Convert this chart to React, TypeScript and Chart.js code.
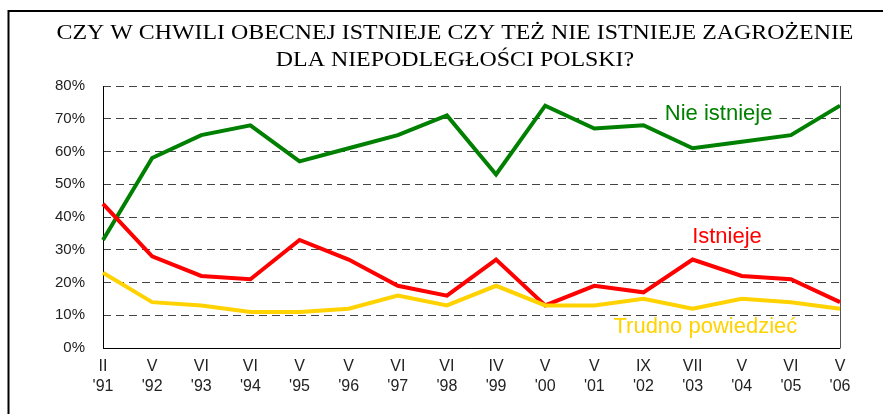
import React, { useEffect, useRef } from "react";
import { Chart, registerables } from "chart.js";

Chart.register(...registerables);

const months = ["II", "V", "VI", "VI", "V", "V", "VI", "VI", "IV", "V", "V", "IX", "VII", "V", "VI", "V"];
const years = ["'91", "'92", "'93", "'94", "'95", "'96", "'97", "'98", "'99", "'00", "'01", "'02", "'03", "'04", "'05", "'06"];

const nieIstnieje = [33, 58, 65, 68, 57, 61, 65, 71, 53, 74, 67, 68, 61, 63, 65, 74];
const istnieje = [44, 28, 22, 21, 33, 27, 19, 16, 27, 13, 19, 17, 27, 22, 21, 14];
const trudno = [23, 14, 13, 11, 11, 12, 16, 13, 19, 13, 13, 15, 12, 15, 14, 12];

const titleLines = [
  "CZY W CHWILI OBECNEJ ISTNIEJE CZY TEŻ NIE ISTNIEJE ZAGROŻENIE",
  "DLA NIEPODLEGŁOŚCI POLSKI?",
];

const GREEN = "#008000";
const RED = "#FF0000";
const YELLOW = "#FFD200";

// series label anchors: [category index, value]
const seriesLabels = [
  { text: "Nie istnieje", color: GREEN, at: [12.53, 71.6], bg: true },
  { text: "Istnieje", color: RED, at: [12.7, 33.9], bg: false },
  { text: "Trudno powiedzieć", color: YELLOW, at: [12.26, 6.5], bg: false },
];

const decorPlugin = {
  id: "decor",
  beforeDatasetsDraw(chart: any) {
    const { ctx, chartArea, scales } = chart;
    const { left, right, top, bottom } = chartArea;
    ctx.save();
    ctx.setLineDash([]);
    ctx.lineWidth = 1;
    ctx.strokeStyle = "#000";
    ctx.beginPath();
    ctx.moveTo(left + 0.5, top);
    ctx.lineTo(left + 0.5, bottom + 0.5);
    ctx.lineTo(right, bottom + 0.5);
    ctx.stroke();
    ctx.strokeStyle = "#555";
    ctx.beginPath();
    ctx.moveTo(right + 0.5, top);
    ctx.lineTo(right + 0.5, bottom + 0.5);
    ctx.stroke();
    ctx.font = "22px 'Liberation Sans', Arial, sans-serif";
    ctx.textAlign = "center";
    ctx.textBaseline = "middle";
    for (const l of seriesLabels) {
      const x = scales.x.getPixelForValue(l.at[0]);
      const y = scales.y.getPixelForValue(l.at[1]);
      if (l.bg) {
        const w = ctx.measureText(l.text).width;
        ctx.fillStyle = "#fff";
        ctx.fillRect(x - w / 2 - 7, y - 13, w + 14, 24);
      }
      ctx.fillStyle = l.color;
      ctx.fillText(l.text, x, y);
    }
    ctx.restore();
  },
  afterDraw(chart: any) {
    const { ctx, width } = chart;
    ctx.save();
    ctx.setLineDash([]);
    ctx.strokeStyle = "#000";
    ctx.lineWidth = 2;
    ctx.beginPath();
    ctx.moveTo(8.5, 500);
    ctx.lineTo(8.5, 11);
    ctx.lineTo(width, 11);
    ctx.stroke();
    ctx.fillStyle = "#000";
    ctx.font = "22px 'Liberation Serif', 'Times New Roman', serif";
    ctx.textAlign = "center";
    ctx.textBaseline = "middle";
    ctx.translate(455, 0);
    ctx.scale(1.086, 1);
    ctx.fillText(titleLines[0], 0, 33);
    ctx.fillText(titleLines[1], 0, 60);
    ctx.restore();
  },
};

export default function App() {
  const ref = useRef<HTMLCanvasElement>(null);
  useEffect(() => {
    if (!ref.current) return;
    const labels = months.map((m, i) => [m, years[i]]);
    const chart = new Chart(ref.current, {
      type: "line",
      data: {
        labels,
        datasets: [
          { label: "Trudno powiedzieć", data: trudno, borderColor: YELLOW, backgroundColor: YELLOW },
          { label: "Istnieje", data: istnieje, borderColor: RED, backgroundColor: RED },
          { label: "Nie istnieje", data: nieIstnieje, borderColor: GREEN, backgroundColor: GREEN },
        ],
      },
      options: {
        animation: false,
        responsive: true,
        maintainAspectRatio: false,
        elements: {
          line: { borderWidth: 4, tension: 0, borderJoinStyle: "miter" as any },
          point: { radius: 0, hoverRadius: 0 },
        },
        layout: { padding: { top: 86, right: 43, left: 0, bottom: 0 } },
        plugins: { legend: { display: false }, title: { display: false }, tooltip: { enabled: false } },
        scales: {
          x: {
            offset: false,
            grid: { display: false, drawTicks: false },
            border: { display: false },
            ticks: {
              color: "#222",
              font: { family: "'Liberation Sans', Arial, sans-serif", size: 16, lineHeight: 1.25 },
              padding: 9,
              maxRotation: 0,
              autoSkip: false,
            },
            afterFit(scale: any) {
              scale.height = 66;
            },
          },
          y: {
            min: 0,
            max: 80,
            grid: { color: "#444", lineWidth: 1, drawTicks: false, borderDash: [8, 5] } as any,
            border: { display: false, dash: [8, 5] },
            ticks: {
              stepSize: 10,
              color: "#222",
              padding: 18,
              font: { family: "'Liberation Sans', Arial, sans-serif", size: 15 },
              callback: (v: any) => v + "%",
            },
            afterFit(scale: any) {
              scale.width = 103;
            },
          },
        },
      },
      plugins: [decorPlugin],
    });
    return () => chart.destroy();
  }, []);
  return (
    <div style={{ position: "fixed", left: 0, top: 0, width: 883, height: 414, background: "#fff" }}>
      <canvas ref={ref} />
    </div>
  );
}
